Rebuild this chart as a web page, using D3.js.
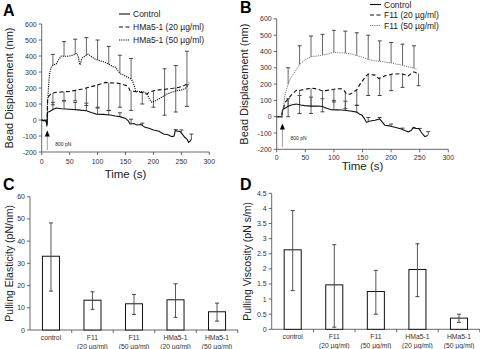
<!DOCTYPE html>
<html>
<head>
<meta charset="utf-8">
<script src="https://cdn.jsdelivr.net/npm/d3@7"></script>
<style>
  body { margin: 0; background: white; }
  text { font-family: "Liberation Sans", Arial, sans-serif; }
</style>
</head>
<body>
<div id="chart"></div>
<script>
let w = 480;
let h = 349;

// ---- panel A : HMa5-1 ----
let ctrlA = [[0,0],[3,-5],[6,0],[8,-10],[9.5,-30],[10.5,48],[15,55],[20,65],[26,75],[35,70],[50,67],[65,63],[80,58],[90,45],[98,37],[110,35],[122,31],[132,25],[140,21],[150,10],[155,-5],[158,-25],[165,-22],[170,-31],[178,-28],[185,-46],[192,-52],[200,-62],[210,-70],[218,-88],[226,-92],[233,-104],[237,-100],[239,-67],[244,-70],[248,-73],[252,-90],[256,-108],[260,-120],[263,-140],[266,-130],[268,-119]];
let lowA = [[0,0],[5,-3],[8,-10],[9.5,-40],[10.5,130],[13,150],[16,162],[22,170],[26,173],[35,175],[50,179],[60,185],[73,194],[85,205],[96,215],[105,225],[114,235],[122,232],[132,231],[140,228],[147,220],[152,215],[156,200],[158,183],[166,178],[176,173],[182,170],[188,162],[193,175],[200,183],[210,188],[218,190],[224,194],[235,198],[245,204],[252,210],[260,225]];
let highA = [[0,0],[8,-5],[9.5,-30],[10.5,100],[12,200],[14,287],[17,330],[21,345],[26,350],[30,375],[35,400],[42,398],[50,400],[56,405],[62,415],[64,408],[66,390],[68,350],[69,345],[71,375],[73,390],[78,400],[83,412],[88,398],[96,380],[105,370],[114,360],[122,345],[128,333],[132,330],[140,290],[147,280],[155,265],[160,256],[163,240],[166,210],[168,180],[175,178],[182,177],[188,165],[193,130],[197,110],[202,118],[206,125],[214,140],[224,162],[232,172],[242,183],[250,188],[256,194],[260,210],[264,235]];
// error bars: [time, end value]
let ctrlAErr = [[20,110],[40,120],[60,110],[80,105],[100,75],[120,60],[140,45],[160,5],[180,-20],[240,-60],[250,-62],[268,-88]];
let lowAErr = [[20,95],[40,120],[60,120],[80,90],[100,80],[120,60],[140,80],[160,60],[180,100],[200,80],[220,30],[240,50],[260,85]];
let highAErr = [[20,410],[40,490],[60,505],[80,515],[100,500],[120,460],[140,405],[160,385],[220,320],[240,340],[260,430]];
let legendA = ["Control", "HMa5-1 (20 \u00b5g/ml)", "HMa5-1 (50 \u00b5g/ml)"];

// ---- panel B : F11 ----
let ctrlB = [[0,0],[8,0],[9,-3],[10,40],[12,47],[16,55],[20,64],[26,72],[34,78],[42,72],[49,68],[60,65],[70,66],[78,64],[85,55],[95,43],[105,42],[113,41],[122,38],[131,33],[140,28],[145,15],[149,10],[153,-10],[157,-35],[162,-28],[166,-25],[172,-22],[180,-14],[185,-35],[189,-52],[195,-55],[201,-60],[210,-68],[218,-76],[224,-85],[230,-93],[235,-85],[239,-66],[244,-72],[248,-72],[251,-85],[253,-97],[256,-110],[259,-122],[262,-118],[264,-113]];
let lowB = [[0,0],[8,0],[10,30],[12,55],[15,89],[20,109],[26,135],[34,161],[42,163],[49,167],[55,172],[61,175],[70,170],[78,161],[85,160],[95,165],[105,172],[113,171],[118,160],[122,140],[128,138],[134,150],[140,165],[145,195],[150,220],[155,245],[160,262],[166,258],[172,255],[178,235],[184,240],[190,252],[196,255],[202,262],[210,262],[218,265],[224,258],[230,250],[236,268],[240,275],[244,268],[248,265]];
let highB = [[0,0],[8,0],[10,30],[12,70],[15,140],[20,200],[25,240],[30,265],[40,320],[50,350],[60,368],[70,372],[80,378],[90,385],[100,395],[110,392],[120,390],[130,385],[140,375],[150,365],[160,352],[170,343],[180,340],[190,335],[200,330],[210,322],[220,315],[230,305],[240,298],[245,290]];
let ctrlBErr = [[20,110],[40,130],[60,120],[80,110],[100,100],[120,95],[140,70],[160,-5],[180,-5],[200,-45],[220,-70],[240,-70],[250,-72],[265,-92]];
let lowBErr = [[20,0],[40,20],[60,20],[80,30],[100,90],[120,50],[140,70],[160,130],[180,130],[200,160],[220,180],[248,190]];
let highBErr = [[20,300],[40,435],[60,495],[80,505],[100,530],[120,525],[140,515],[160,500],[180,465],[200,455],[220,445],[240,435]];
let legendB = ["Control", "F11 (20 \u00b5g/ml)", "F11 (50 \u00b5g/ml)"];

let timeTicks = [0, 50, 100, 150, 200, 250, 300];
let dispTicks = [-200, -100, 0, 100, 200, 300, 400, 500, 600];

// ---- panels C / D ----
let groups = ["control", "F11|(20 \u00b5g/ml)", "F11|(50 \u00b5g/ml)", "HMa5-1|(20 \u00b5g/ml)", "HMa5-1|(50 \u00b5g/ml)"];
let elasticity = [33.2, 13.4, 11.8, 13.6, 8.2];
let elasticityLo = [17.5, 9.3, 7.0, 5.7, 4.0];
let elasticityHi = [48.2, 17.2, 16.0, 20.8, 12.1];
let elasticityTicks = [0, 10, 20, 30, 40, 50, 60];
let viscosity = [2.63, 1.47, 1.25, 1.98, 0.37];
let viscosityLo = [1.28, 0.07, 0.5, 1.08, 0.23];
let viscosityHi = [3.93, 2.8, 1.95, 2.83, 0.5];
let viscosityTicks = [0, 0.5, 1, 1.5, 2, 2.5, 3, 3.5, 4, 4.5];

let svg = d3.select("#chart").append("svg")
  .attr("width", w).attr("height", h)
  .style("background", "white");

function yAxis(g, x, scale, ticks) {
  g.append("line").attr("x1", x).attr("x2", x)
    .attr("y1", scale(ticks[0])).attr("y2", scale(ticks[ticks.length - 1]))
    .attr("stroke", "#444").attr("stroke-width", 0.8);
  ticks.forEach(t => {
    g.append("line").attr("x1", x - 3).attr("x2", x).attr("y1", scale(t)).attr("y2", scale(t))
      .attr("stroke", "#444").attr("stroke-width", 0.8);
    g.append("text").attr("x", x - 5).attr("y", scale(t) + 2.5)
      .attr("text-anchor", "end").attr("font-size", 7).attr("fill", "#333")
      .text(t);
  });
}

function linePanel(cfg) {
  let g = svg.append("g");
  let x = d3.scaleLinear().domain([0, 300]).range([cfg.left, cfg.right]);
  let y = d3.scaleLinear().domain([-200, 600]).range([cfg.bottom, cfg.top]);

  yAxis(g, cfg.left, y, dispTicks);
  g.append("line").attr("x1", cfg.left).attr("x2", cfg.right)
    .attr("y1", cfg.bottom).attr("y2", cfg.bottom).attr("stroke", "#444").attr("stroke-width", 0.8);
  timeTicks.forEach(t => {
    g.append("line").attr("x1", x(t)).attr("x2", x(t)).attr("y1", cfg.bottom).attr("y2", cfg.bottom + 3)
      .attr("stroke", "#444").attr("stroke-width", 0.8);
    g.append("text").attr("x", x(t)).attr("y", cfg.bottom + cfg.tickDy)
      .attr("text-anchor", "middle").attr("font-size", 7).attr("fill", "#333").text(t);
  });

  // arrow at the start of the force
  g.append("line").attr("x1", x(10)).attr("x2", x(10))
    .attr("y1", cfg.bottom - 2).attr("y2", y(cfg.arrowTip - 10))
    .attr("stroke", "#888").attr("stroke-width", 0.8);
  g.append("path")
    .attr("d", `M${x(10)},${y(cfg.arrowTip)} l-2.5,6 l5,0 z`).attr("fill", "black");
  g.append("text").attr("x", x(10) + 8).attr("y", y(cfg.forceLabel) + 2)
    .attr("font-size", 5).attr("fill", "#222").text("800 pN");

  let line = d3.line().x(d => x(d[0])).y(d => y(d[1]));
  let styles = [
    { data: cfg.ctrl, err: cfg.ctrlErr, dash: null, width: 1.1, color: "#111" },
    { data: cfg.low, err: cfg.lowErr, dash: "4,2.5", width: 1.1, color: "#111" },
    { data: cfg.high, err: cfg.highErr, dash: "1.2,1", width: cfg.highWidth, color: cfg.highColor }
  ];

  styles.forEach(s => {
    let interp = t => {
      let b = d3.bisector(d => d[0]).left(s.data, t);
      if (b <= 0) return s.data[0][1];
      if (b >= s.data.length) return s.data[s.data.length - 1][1];
      let a = s.data[b - 1], c = s.data[b];
      return a[1] + (c[1] - a[1]) * (t - a[0]) / (c[0] - a[0]);
    };
    s.err.forEach(e => {
      let v0 = interp(e[0]);
      g.append("line").attr("x1", x(e[0])).attr("x2", x(e[0]))
        .attr("y1", y(v0)).attr("y2", y(e[1]))
        .attr("stroke", "#555").attr("stroke-width", 0.9);
      g.append("line").attr("x1", x(e[0]) - 2).attr("x2", x(e[0]) + 2)
        .attr("y1", y(e[1])).attr("y2", y(e[1]))
        .attr("stroke", "#333").attr("stroke-width", 0.9);
    });
  });
  styles.forEach(s => {
    g.append("path").attr("d", line(s.data)).attr("fill", "none")
      .attr("stroke", s.color).attr("stroke-width", s.width)
      .attr("stroke-dasharray", s.dash);
  });

  // legend
  cfg.legend.forEach((name, i) => {
    let ly = cfg.legendY + i * cfg.legendStep;
    g.append("line").attr("x1", cfg.legendX).attr("x2", cfg.legendX + 11)
      .attr("y1", ly).attr("y2", ly)
      .attr("stroke", styles[i].color).attr("stroke-width", styles[i].width)
      .attr("stroke-dasharray", styles[i].dash);
    g.append("text").attr("x", cfg.legendX + 14).attr("y", ly + 3)
      .attr("font-size", 8.5).attr("fill", "#222").text(name);
  });

  g.append("text").attr("x", (cfg.left + cfg.right) / 2).attr("y", cfg.bottom + cfg.titleDy)
    .attr("text-anchor", "middle").attr("font-size", 11.5).attr("fill", "#222").text("Time (s)");
  g.append("text")
    .attr("transform", `translate(${cfg.left - 29},${(cfg.top + cfg.bottom) / 2}) rotate(-90)`)
    .attr("text-anchor", "middle").attr("font-size", 11).attr("fill", "#222")
    .text("Bead Displacement (nm)");
  g.append("text").attr("x", cfg.letterX).attr("y", cfg.letterY)
    .attr("font-size", 16).attr("font-weight", "bold").text(cfg.letter);
}

linePanel({
  left: 41.7, right: 209.3, top: 24, bottom: 152,
  ctrl: ctrlA, low: lowA, high: highA,
  ctrlErr: ctrlAErr, lowErr: lowAErr, highErr: highAErr,
  highColor: "#111", highWidth: 1.1,
  arrowTip: -65, forceLabel: -152, tickDy: 12, titleDy: 26,
  legend: legendA, legendX: 119, legendY: 14, legendStep: 13,
  letter: "A", letterX: 3, letterY: 16
});
linePanel({
  left: 276.7, right: 448.3, top: 18.9, bottom: 149.3,
  ctrl: ctrlB, low: lowB, high: highB,
  ctrlErr: ctrlBErr, lowErr: lowBErr, highErr: highBErr,
  highColor: "#666", highWidth: 0.9,
  arrowTip: -42, forceLabel: -129, tickDy: 10.5, titleDy: 21,
  legend: legendB, legendX: 370, legendY: 4.5, legendStep: 10.5,
  letter: "B", letterX: 240, letterY: 13
});

function barPanel(cfg) {
  let g = svg.append("g");
  let x = d3.scaleBand().domain(groups).range([cfg.left, cfg.right]).paddingInner(0.59).paddingOuter(0.3);
  let y = d3.scaleLinear().domain([0, cfg.ticks[cfg.ticks.length - 1]]).range([cfg.bottom, cfg.top]);

  yAxis(g, cfg.left, y, cfg.ticks);
  g.append("line").attr("x1", cfg.left).attr("x2", cfg.right)
    .attr("y1", cfg.bottom).attr("y2", cfg.bottom).attr("stroke", "#444").attr("stroke-width", 0.8);
  let step = x.step();
  groups.forEach((c, i) => {
    let bx = x(c) + x.bandwidth() / 2 + step / 2;
    g.append("line").attr("x1", bx).attr("x2", bx).attr("y1", cfg.bottom).attr("y2", cfg.bottom + 3)
      .attr("stroke", "#444").attr("stroke-width", 0.8);
    let parts = c.split("|");
    parts.forEach((p, j) => {
      g.append("text").attr("x", x(c) + x.bandwidth() / 2).attr("y", cfg.bottom + 10 + j * 9)
        .attr("text-anchor", "middle").attr("font-size", 6.8).attr("fill", "#333").text(p);
    });
  });

  g.selectAll(".bar").data(groups).enter().append("rect")
    .attr("x", d => x(d)).attr("width", x.bandwidth())
    .attr("y", (d, i) => y(cfg.values[i]))
    .attr("height", (d, i) => cfg.bottom - y(cfg.values[i]))
    .attr("fill", "white").attr("stroke", "#111").attr("stroke-width", 1);

  groups.forEach((c, i) => {
    let cx = x(c) + x.bandwidth() / 2;
    g.append("line").attr("x1", cx).attr("x2", cx)
      .attr("y1", y(cfg.lo[i])).attr("y2", y(cfg.hi[i]))
      .attr("stroke", "#444").attr("stroke-width", 0.9);
    [cfg.lo[i], cfg.hi[i]].forEach(v => {
      g.append("line").attr("x1", cx - 2).attr("x2", cx + 2).attr("y1", y(v)).attr("y2", y(v))
        .attr("stroke", "#333").attr("stroke-width", 0.9);
    });
  });

  g.append("text")
    .attr("transform", `translate(${cfg.labelX},${(cfg.top + cfg.bottom) / 2}) rotate(-90)`)
    .attr("text-anchor", "middle").attr("font-size", 10.5).attr("fill", "#222").text(cfg.label);
  g.append("text").attr("x", cfg.letterX).attr("y", cfg.letterY)
    .attr("font-size", 16).attr("font-weight", "bold").text(cfg.letter);
}

barPanel({
  left: 30, right: 238, top: 196.7, bottom: 330,
  values: elasticity, lo: elasticityLo, hi: elasticityHi, ticks: elasticityTicks,
  label: "Pulling Elasticity (pN/nm)", labelX: 13, letter: "C", letterX: 3, letterY: 190
});
barPanel({
  left: 271.7, right: 480, top: 193.3, bottom: 329.3,
  values: viscosity, lo: viscosityLo, hi: viscosityHi, ticks: viscosityTicks,
  label: "Pulling Viscosity (pN s/m)", labelX: 251, letter: "D", letterX: 240, letterY: 190
});
</script>
</body>
</html>
